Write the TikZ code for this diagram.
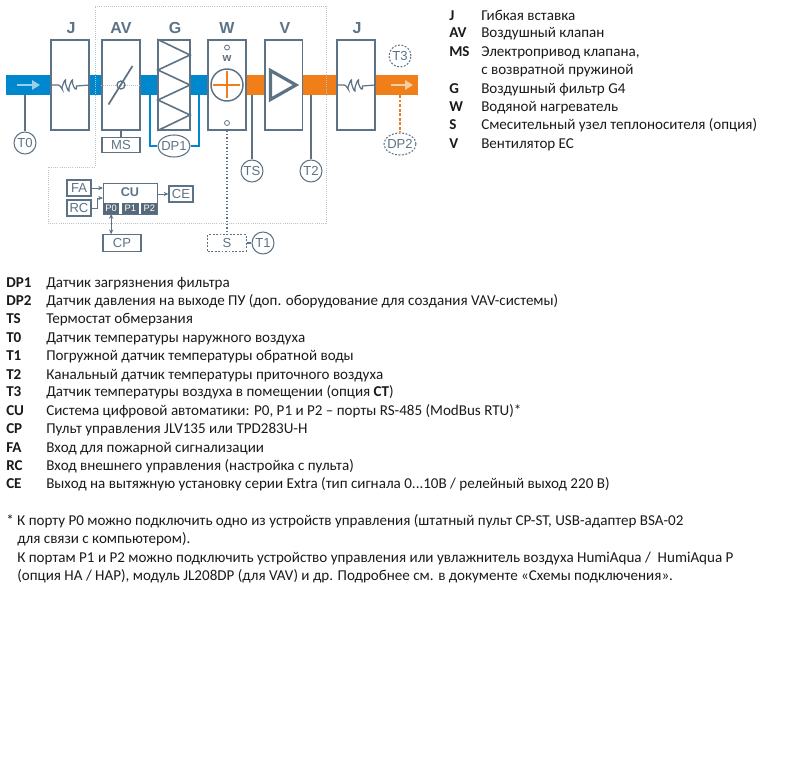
\documentclass[tikz,border=0pt]{standalone}
\usepackage{fontspec}
\setmainfont{Carlito}
\newfontfamily\diafont{Liberation Sans}
\usetikzlibrary{arrows.meta,shapes.geometric}
\definecolor{blu}{HTML}{0088CE}
\definecolor{org}{HTML}{F07F1A}
\definecolor{gry}{HTML}{5D7385}
\definecolor{dark}{HTML}{56697A}
\definecolor{pale}{HTML}{B9C5CE}
\definecolor{txt}{HTML}{1A1A1A}
\tikzset{
  x=0.75pt,y=-0.75pt,
  unitbox/.style={draw=gry,line width=1.2pt,minimum width=28.2pt,minimum height=67.5pt,inner sep=0pt,fill=white},
  smallbox/.style={draw=gry,line width=0.8pt,inner sep=0pt,text=gry,font=\diafont\fontsize{9.8pt}{11pt}\selectfont},
  sens/.style={circle,draw=gry,line width=0.8pt,minimum size=16.5pt,inner sep=-3pt,text=gry,fill=white,font=\diafont\fontsize{9.8pt}{11pt}\selectfont},
  sense/.style={ellipse,draw=gry,line width=0.8pt,minimum width=24pt,minimum height=16.5pt,inner xsep=-5pt,inner ysep=-3pt,text=gry,fill=white,font=\diafont\fontsize{9.8pt}{11pt}\selectfont},
  title/.style={text=gry,font=\diafont\bfseries\fontsize{12pt}{12pt}\selectfont,inner sep=0pt},
  port/.style={fill=dark,text=white,inner sep=0pt,minimum height=8.2pt,font=\diafont\fontsize{7pt}{8pt}\selectfont},
  lbl/.style={anchor=base west,inner sep=0pt,text=txt,font=\bfseries\fontsize{11.3pt}{12pt}\selectfont},
  desc/.style={anchor=base west,inner sep=0pt,text=txt,font=\fontsize{11.3pt}{12pt}\selectfont},
  wire/.style={draw=gry,line width=0.9pt},
  thin wire/.style={draw=gry,line width=0.6pt,-{Stealth[length=3.6pt,width=3.2pt]}},
  dotline/.style={draw=gry,line width=1pt,dash pattern=on 1pt off 1.5pt},
  dashbox/.style={dash pattern=on 1.4pt off 1.2pt},
}
\begin{document}
\begin{tikzpicture}
\useasboundingbox (0,0) rectangle (800,777);
% ducts
\fill[blu] (6,75) rectangle (207,95);
\fill[org] (246,75) rectangle (418,95);
% frame
\draw[pale,line width=0.6pt,densely dotted] (95,6) -- (326,6) -- (326,223) -- (48,223) -- (48,167) -- (95,167) -- cycle;
% units
\node[unitbox] (j1) at (70,85) {};
\node[unitbox] (av) at (121,85) {};
\node[unitbox,minimum width=24pt] (g) at (174,85) {};
\node[unitbox] (w) at (227,85) {};
\node[unitbox] (v) at (283.5,85) {};
\node[unitbox] (j2) at (356,85) {};
\node[title] (tj1) at (71,28) {J};
\node[title] (tav) at (121,28) {AV};
\node[title] (tg) at (175,28) {G};
\node[title] (tw) at (227,28) {W};
\node[title] (tv) at (285,28) {V};
\node[title] (tj2) at (357,28) {J};
% flexible inserts
\foreach \n in {j1,j2}{
  \draw[gry,line width=0.9pt] (\n.west) -- ++(8,0) .. controls +(2,0) and +(1.5,4) .. ++(3.5,3) .. controls +(1.5,-6) and +(1,-7) .. ++(3.5,-5) .. controls +(1.5,6) and +(1,7) .. ++(3.5,5) .. controls +(1.5,-6) and +(1,-7) .. ++(3.5,-5) .. controls +(1.5,6) and +(1,6) .. ++(4,3) -- (\n.east);
}
% damper
\draw[pale,line width=0.5pt,densely dotted] (av.west) -- (av.east);
\draw[gry,line width=1.3pt] (108.5,104.5) -- (132.5,66);
\draw[gry,line width=1pt] (av.center) circle (4);
% filter
\draw[gry,line width=1.2pt] (g.north west) -- (190,55) -- (158,70) -- (190,85) -- (158,100) -- (190,115) -- (g.south west);
% heater
\node[circle,draw=gry,line width=1.1pt,minimum size=24pt,inner sep=0pt] (coil) at (227,85) {};
\draw[org,line width=1pt] (coil.west) ++(2.5,0) -- ++(27,0);
\draw[org,line width=1pt] (coil.north) ++(0,2.5) -- ++(0,27);
\node[circle,draw=gry,line width=0.6pt,minimum size=3.7pt,inner sep=0pt] (wtop) at (227,47.5) {};
\node[circle,draw=gry,line width=0.6pt,minimum size=3.7pt,inner sep=0pt] (wbot) at (227,123) {};
\node[text=gry,inner sep=0pt,font=\diafont\bfseries\fontsize{8.5pt}{9pt}\selectfont] (wlab) at (227,59) {w};
% fan
\draw[gry,line width=2.4pt,line join=miter] (270.5,70.5) -- (296,85) -- (270.5,99.5) -- cycle;
% flow arrows
\coordinate (ba) at (17,85); \coordinate (bb) at (40,85);
\coordinate (oa) at (391,85); \coordinate (ob) at (413,85);
\draw[draw=blu!40!white,line width=2.2pt,-{Triangle[length=6pt,width=7pt]}] (ba) -- (bb);
\draw[draw=org!40!white,line width=2.2pt,-{Triangle[length=6pt,width=7pt]}] (oa) -- (ob);
% sensors
\node[sens] (t0) at (25,143) {T0};
\node[smallbox,minimum width=28.5pt,minimum height=11.5pt] (ms) at (121,145) {MS};
\node[sense] (dp1) at (174,146) {DP1};
\node[sens] (ts) at (252,171) {TS};
\node[sens] (t2) at (311,171) {T2};
\node[sens,dashbox] (t3) at (400,56) {T3};
\node[sense,dashbox] (dp2) at (400,144) {DP2};
\coordinate (t0top) at (25,95);
\coordinate (tstop) at (252,95);
\coordinate (t2top) at (311,95);
\coordinate (dp2top) at (400,95);
\draw[wire] (t0top) -- (t0);
\draw[wire] (tstop) -- (ts);
\draw[wire] (t2top) -- (t2);
\draw[org,line width=1.2pt,dash pattern=on 2.2pt off 1.2pt] (dp2top) -- (dp2);
\draw[wire] (av.south) -- (ms);
\coordinate (dpa) at (150,95); \coordinate (dpb) at (199,95);
\draw[blu,line width=1pt] (dpa) |- (dp1.west);
\draw[blu,line width=1pt] (dpb) |- (dp1.east);
% S
\node[smallbox,dashbox,minimum width=28.9pt,minimum height=12.3pt] (s) at (227,243) {S};
\node[sens] (t1) at (263,243) {T1};
\draw[wire] (s) -- (t1);
\draw[dotline] (w.south) -- (s.north);
% automation
\node[smallbox,minimum width=40.5pt,minimum height=23.3pt,anchor=north west,text=white] (cu) at (103,183) {};
\node[text=gry,inner sep=0pt,font=\diafont\bfseries\fontsize{9.5pt}{10pt}\selectfont] (cut) at (130,192) {CU};
\node[port,minimum width=11.8pt,anchor=south west] (p0) at (103,214) {P0};
\node[port,minimum width=12.8pt,anchor=south west] (p1) at (121.5,214) {P1};
\node[port,minimum width=12pt,anchor=south west] (p2) at (141,214) {P2};
\node[smallbox,minimum width=18pt,minimum height=12pt] (fa) at (79,188) {FA};
\node[smallbox,minimum width=18pt,minimum height=12pt] (rc) at (79,208) {RC};
\node[smallbox,minimum width=18pt,minimum height=12pt] (ce) at (181,194) {CE};
\node[smallbox,minimum width=28.5pt,minimum height=12.3pt] (cp) at (122,243) {CP};
\draw[thin wire] (fa.east) -- (cu.west |- fa.east);
\draw[thin wire] (rc.east) -- ++(6,0) |- (103,198);
\draw[thin wire] (cu.east |- ce.west) -- (ce.west);
\draw[thin wire,{Stealth[length=3.6pt,width=3.2pt]}-{Stealth[length=3.6pt,width=3.2pt]}] (p0.south) -- (p0.south |- cp.north);
% right legend
\node[lbl] (a1) at (449,21) {J};        \node[desc] (b1) at (481,21) {Гибкая вставка};
\node[lbl] (a2) at (449,38) {AV};       \node[desc] (b2) at (481,38) {Воздушный клапан};
\node[lbl] (a3) at (449,57) {MS};       \node[desc] (b3) at (481,57) {Электропривод клапана,};
\node[desc] (b3b) at (481,75) {с возвратной пружиной};
\node[lbl] (a4) at (449,94) {G};        \node[desc] (b4) at (481,94) {Воздушный фильтр G4};
\node[lbl] (a5) at (449,112) {W};       \node[desc] (b5) at (481,112) {Водяной нагреватель};
\node[lbl] (a6) at (449,130) {S};       \node[desc] (b6) at (481,130) {Смесительный узел теплоносителя (опция)};
\node[lbl] (a7) at (449,149) {V};       \node[desc] (b7) at (481,149) {Вентилятор EC};
% lower legend
\node[lbl] (c1) at (6,288) {DP1};  \node[desc] (d1) at (46,288) {Датчик загрязнения фильтра};
\node[lbl] (c2) at (6,306) {DP2};  \node[desc] (d2) at (46,306) {Датчик давления на выходе ПУ (доп. оборудование для создания VAV-системы)};
\node[lbl] (c3) at (6,324) {TS};   \node[desc] (d3) at (46,324) {Термостат обмерзания};
\node[lbl] (c4) at (6,343) {T0};   \node[desc] (d4) at (46,343) {Датчик температуры наружного воздуха};
\node[lbl] (c5) at (6,361) {T1};   \node[desc] (d5) at (46,361) {Погружной датчик температуры обратной воды};
\node[lbl] (c6) at (6,379) {T2};   \node[desc] (d6) at (46,379) {Канальный датчик температуры приточного воздуха};
\node[lbl] (c7) at (6,397) {T3};   \node[desc] (d7) at (46,397) {Датчик температуры воздуха в помещении (опция \textbf{CT})};
\node[lbl] (c8) at (6,415) {CU};   \node[desc] (d8) at (46,415) {Система цифровой автоматики: P0, P1 и P2 – порты RS-485 (ModBus RTU)*};
\node[lbl] (c9) at (6,433) {CP};   \node[desc] (d9) at (46,433) {Пульт управления JLV135 или TPD283U-H};
\node[lbl] (c10) at (6,452) {FA};  \node[desc] (d10) at (46,452) {Вход для пожарной сигнализации};
\node[lbl] (c11) at (6,470) {RC};  \node[desc] (d11) at (46,470) {Вход внешнего управления (настройка с пульта)};
\node[lbl] (c12) at (6,488) {CE};  \node[desc] (d12) at (46,488) {Выход на вытяжную установку серии Extra (тип сигнала 0...10В / релейный выход 220 В)};
% note
\node[desc] (n1) at (6,525) {* К порту P0 можно подключить одно из устройств управления (штатный пульт CP-ST, USB-адаптер BSA-02};
\node[desc] (n2) at (17,543) {для связи с компьютером).};
\node[desc] (n3) at (17,562) {К портам P1 и P2 можно подключить устройство управления или увлажнитель воздуха HumiAqua /\ \ HumiAqua P};
\node[desc] (n4) at (17,580) {(опция HA / HAP), модуль JL208DP (для VAV) и др. Подробнее см. в документе «Схемы подключения».};
\end{tikzpicture}
\end{document}
